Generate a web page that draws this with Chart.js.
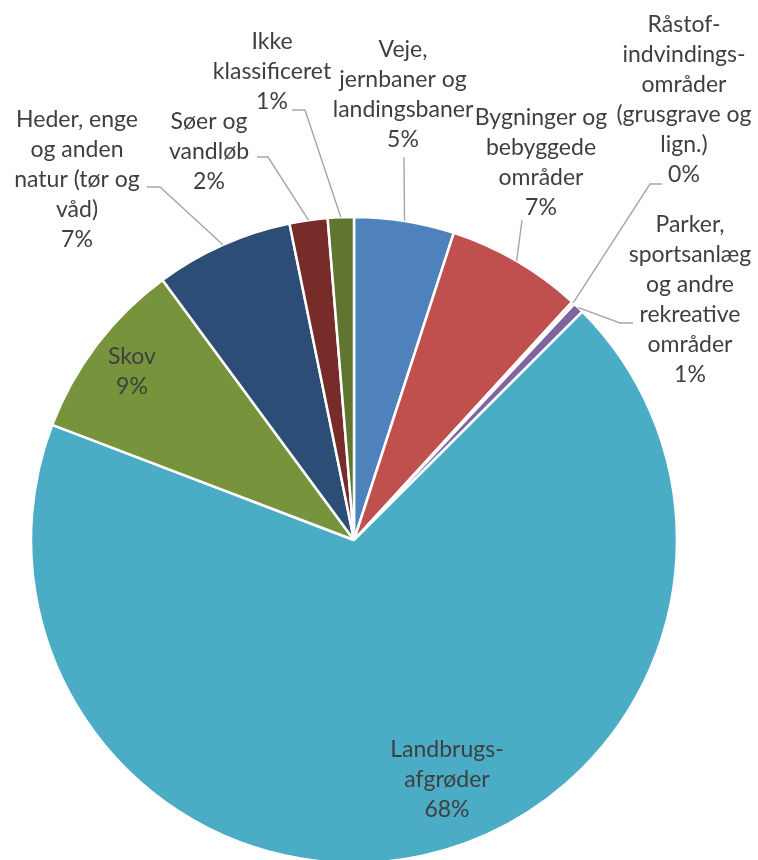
<!DOCTYPE html>
<html>
<head>
<meta charset="utf-8">
<script src="https://cdn.jsdelivr.net/npm/chart.js@4"></script>
<style>
  html, body { margin: 0; padding: 0; background: #fff; }
  #wrap { width: 758px; height: 860px; }
</style>
</head>
<body>
<div id="wrap"><canvas id="chart" width="758" height="860"></canvas></div>
<script>
// Arealanvendelse - andele i procent
const categories = [
  ['Veje,', 'jernbaner og', 'landingsbaner'],
  ['Bygninger og', 'bebyggede', 'områder'],
  ['Råstof-', 'indvindings-', 'områder', '(grusgrave og', 'lign.)'],
  ['Parker,', 'sportsanlæg', 'og andre', 'rekreative', 'områder'],
  ['Landbrugs-', 'afgrøder'],
  ['Skov'],
  ['Heder, enge', 'og anden', 'natur (tør og', 'våd)'],
  ['Søer og', 'vandløb'],
  ['Ikke', 'klassificeret']
];
const shares = [5.0, 6.8, 0.15, 0.55, 68.3, 9.1, 6.9, 1.9, 1.3];
const colors = ['#4F81BD', '#C0504D', '#9BBB59', '#8064A2', '#4BACC6', '#77933C', '#2C4D75', '#772C2A', '#5F7530'];

// Placering af etiketter: tekstens midte (x), første linjes y og knækpunkter for forbindelseslinjen
const labelCenters = [[403, 50], [541, 118], [684, 25], [690, 225], [447, 750], [132, 357], [77, 120], [209, 122], [272, 42]];
const leaderPoints = [
  [[404, 157]],
  [[522, 220]],
  [[650, 184], [662, 184]],
  [[620, 323], [633, 323]],
  null,
  null,
  [[160, 187], [147, 187]],
  [[268, 157], [257, 157]],
  [[305, 110], [292, 110]]
];

const LINE_H = 30;
const TEXT_COLOR = '#3F3F3F';

const pieLabels = {
  id: 'pieLabels',
  afterDatasetsDraw(chart) {
    const ctx = chart.ctx;
    const meta = chart.getDatasetMeta(0);
    ctx.save();
    meta.data.forEach((arc, i) => {
      const p = arc.getProps(['x', 'y', 'startAngle', 'endAngle', 'outerRadius'], true);
      const mid = (p.startAngle + p.endAngle) / 2;
      const pts = leaderPoints[i];
      if (pts) {
        ctx.beginPath();
        ctx.moveTo(p.x + Math.cos(mid) * p.outerRadius, p.y + Math.sin(mid) * p.outerRadius);
        pts.forEach(pt => ctx.lineTo(pt[0], pt[1]));
        ctx.strokeStyle = '#A6A6A6';
        ctx.lineWidth = 1.4;
        ctx.stroke();
      }
      const lines = categories[i].concat([Math.round(shares[i]) + '%']);
      const [cx, y0] = labelCenters[i];
      ctx.fillStyle = TEXT_COLOR;
      ctx.font = '23px Lato';
      ctx.textAlign = 'center';
      ctx.textBaseline = 'middle';
      lines.forEach((t, k) => ctx.fillText(t, cx, y0 + k * LINE_H));
    });
    ctx.restore();
  }
};

new Chart(document.getElementById('chart'), {
  type: 'pie',
  data: {
    labels: categories.map(c => c.join(' ')),
    datasets: [{
      data: shares,
      backgroundColor: colors,
      borderColor: '#FFFFFF',
      borderWidth: 2.5,
      radius: 323
    }]
  },
  options: {
    responsive: false,
    animation: false,
    layout: { padding: { left: 0, right: 50, top: 220, bottom: 0 } },
    plugins: { legend: { display: false }, tooltip: { enabled: false } }
  },
  plugins: [pieLabels]
});
</script>
</body>
</html>
